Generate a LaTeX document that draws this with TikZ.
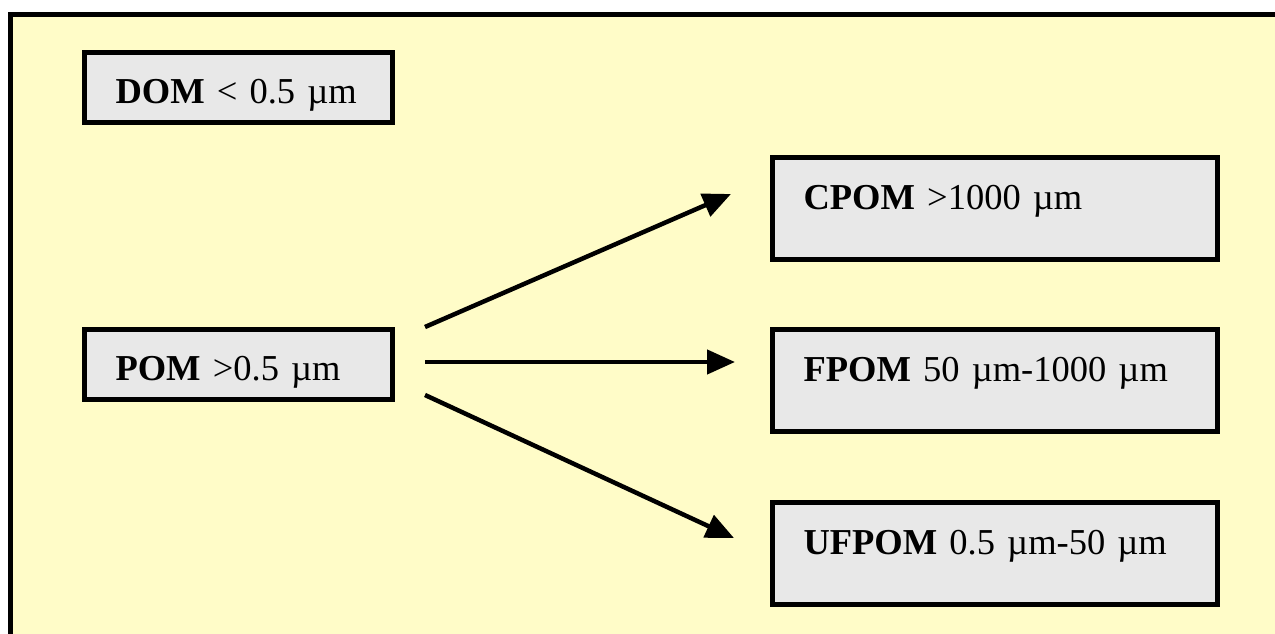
\documentclass[tikz,border=0pt]{standalone}
\usepackage{fontspec}
\setmainfont{Liberation Serif}
\usetikzlibrary{arrows.meta}
\definecolor{bgyellow}{HTML}{FFFCC8}
\definecolor{boxgray}{HTML}{E8E8E8}
\tikzset{
  box/.style={draw=black, line width=5pt, fill=boxgray, inner xsep=31pt, inner ysep=0pt,
    align=left, anchor=north west, font=\fontsize{36.5}{42}\selectfont},
  leftbox/.style={box, text width=246pt, text height=51pt, text depth=19pt},
  rightbox/.style={box, text width=383pt, text height=52pt, text depth=50pt},
  arr/.style={line width=4.5pt, -{Triangle[length=28pt,width=24pt]}}
}
\begin{document}
\begin{tikzpicture}[x=1pt,y=-1pt]
\useasboundingbox (0,0) rectangle (1275,634);
\clip (0,0) rectangle (1275,634);
\fill[white] (0,0) rectangle (1275,634);
\draw[line width=5.5pt, fill=bgyellow] (10.5,14.5) rectangle (1300,660);
\node[leftbox] (dom) at (82,50) {\mbox{\textbf{DOM} < 0.5 µm}};
\node[leftbox] (pom) at (82,327) {\mbox{\textbf{POM} >0.5 µm}};
\node[rightbox] (cpom) at (770,155) {\mbox{\textbf{CPOM} >1000 µm}};
\node[rightbox] (fpom) at (770,327) {\mbox{\textbf{FPOM} 50 µm-1000 µm}};
\node[rightbox] (ufpom) at (770,500) {\mbox{\textbf{UFPOM} 0.5 µm-50 µm}};
\coordinate (s1) at (425,327);
\coordinate (e1) at (731,194);
\coordinate (s2) at (425,362);
\coordinate (e2) at (735,362);
\coordinate (s3) at (425,395);
\coordinate (e3) at (734,538);
\draw[arr] (s1) -- (e1);
\draw[arr] (s2) -- (e2);
\draw[arr] (s3) -- (e3);
\end{tikzpicture}
\end{document}
